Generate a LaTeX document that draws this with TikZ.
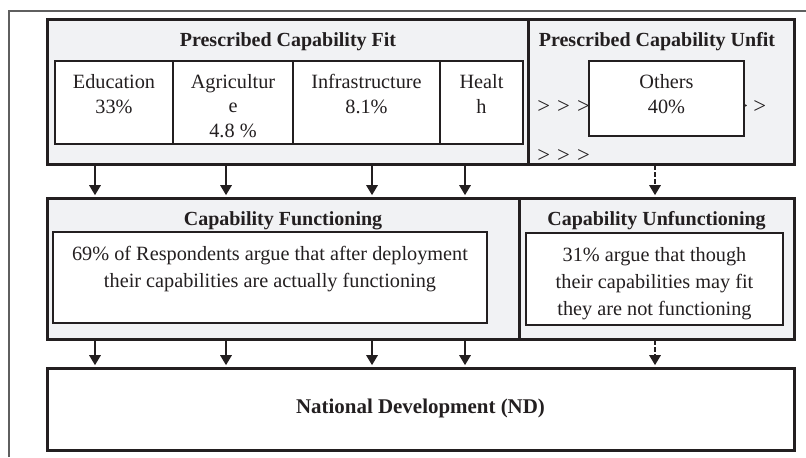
\documentclass[tikz,border=0pt]{standalone}
\usepackage{fontspec}
\setmainfont{Liberation Serif}
\usetikzlibrary{arrows.meta,fit}
\definecolor{panel}{RGB}{241,242,244}
\definecolor{ink}{RGB}{35,31,32}
\definecolor{framegray}{RGB}{95,95,95}

\begin{document}
\begin{tikzpicture}[x=0.75pt,y=-0.75pt,
  group/.style={draw=ink, line width=2.25pt, fill=panel, inner sep=0pt},
  cell/.style={draw=ink, line width=1.6pt, fill=white, inner sep=0pt},
  body/.style={font=\fontsize{15.2}{18.4}\selectfont, text=ink, align=center, inner sep=0pt, anchor=base},
  wide/.style={font=\fontsize{15.2}{20}\selectfont, text=ink, align=center, inner sep=0pt, anchor=base},
  title/.style={font=\fontsize{15}{18}\selectfont\bfseries, text=ink, inner sep=0pt, anchor=base},
  chev/.style={font=\fontsize{17}{18}\selectfont, text=ink, inner sep=0pt, anchor=west},
  flow/.style={draw=ink, line width=1.5pt, -{Triangle[length=7.5pt,width=8.5pt]}, shorten >=1pt},
  weakflow/.style={flow, dash pattern=on 3.5pt off 1.5pt}
]
\useasboundingbox (0,0) rectangle (806,457);

% page frame
\draw[framegray, line width=0.8pt] (9,457) -- (9,11) -- (806,11);

% top row: prescribed capability groups
\node[group, fit={(47,19) (528,164)}] (fitbox) {};
\node[group, fit={(528,19) (794,164)}] (unfitbox) {};
\node[title] (fittitle) at (288,46.5) {Prescribed Capability Fit};
\node[title] (unfittitle) at (657,46.5) {Prescribed Capability Unfit};

% sector cells (anchor = baseline of the last line)
\node[cell, fit={(55,61) (173,144)}] (edu) {};
\node[cell, fit={(173,61) (293,144)}] (agr) {};
\node[cell, fit={(293,61) (440,144)}] (inf) {};
\node[cell, fit={(440,61) (523,144)}] (hea) {};
\node[body] (edutext) at (114,113.5) {Education\\33\%};
\node[body] (agrtext) at (233,137.5) {Agricultur\\e\\4.8 \%};
\node[body] (inftext) at (366.5,113.5) {Infrastructure\\8.1\%};
\node[body] (heatext) at (481.5,113.5) {Healt\\h};

% chevrons around the "Others" box
\node[chev] (chevin) at (537,107.5) {>\kern5.4pt>\kern5.4pt>};
\node[chev] (chevout) at (735,107.5) {>\kern4pt>};
\node[chev] (chevlow) at (537,156) {>\kern5.4pt>\kern5.4pt>};
\node[cell, fit={(589,61) (744,136)}] (oth) {};
\node[body] (othtext) at (666.5,113.5) {Others\\40\%};

% middle row: functioning groups
\node[group, fit={(47,198) (519,339)}] (funbox) {};
\node[group, fit={(519,198) (794,339)}] (unfunbox) {};
\node[title] (funtitle) at (283,225) {Capability Functioning};
\node[title] (unfuntitle) at (656.5,225) {Capability Unfunctioning};
\node[cell, fit={(53,232) (487,323)}] (funcell) {};
\node[cell, fit={(526,233) (783,325)}] (unfuncell) {};
\node[wide] (funtext) at (270,287) {69\% of Respondents argue that after deployment\\their capabilities are actually functioning};
\node[wide] (unfuntext) at (654.5,315) {31\% argue that though\\their capabilities may fit\\they are not functioning};

% bottom: national development
\node[draw=ink, line width=2.25pt, fill=white, inner sep=0pt, fit={(47,368) (794,450)}] (nd) {};
\node[title, font=\fontsize{15.7}{18}\selectfont\bfseries] (ndtext) at (420.5,413) {National Development (ND)};

% arrow columns
\coordinate (c1) at (95,0);
\coordinate (c2) at (226,0);
\coordinate (c3) at (372,0);
\coordinate (c4) at (465,0);
\coordinate (c5) at (655,0);

\foreach \c in {c1,c2,c3,c4}{
  \draw[flow] (fitbox.south -| \c) -- (funbox.north -| \c);
  \draw[flow] (funbox.south -| \c) -- (nd.north -| \c);
}
\draw[weakflow] (unfitbox.south -| c5) -- (unfunbox.north -| c5);
\draw[weakflow] (unfunbox.south -| c5) -- (nd.north -| c5);
\end{tikzpicture}
\end{document}
